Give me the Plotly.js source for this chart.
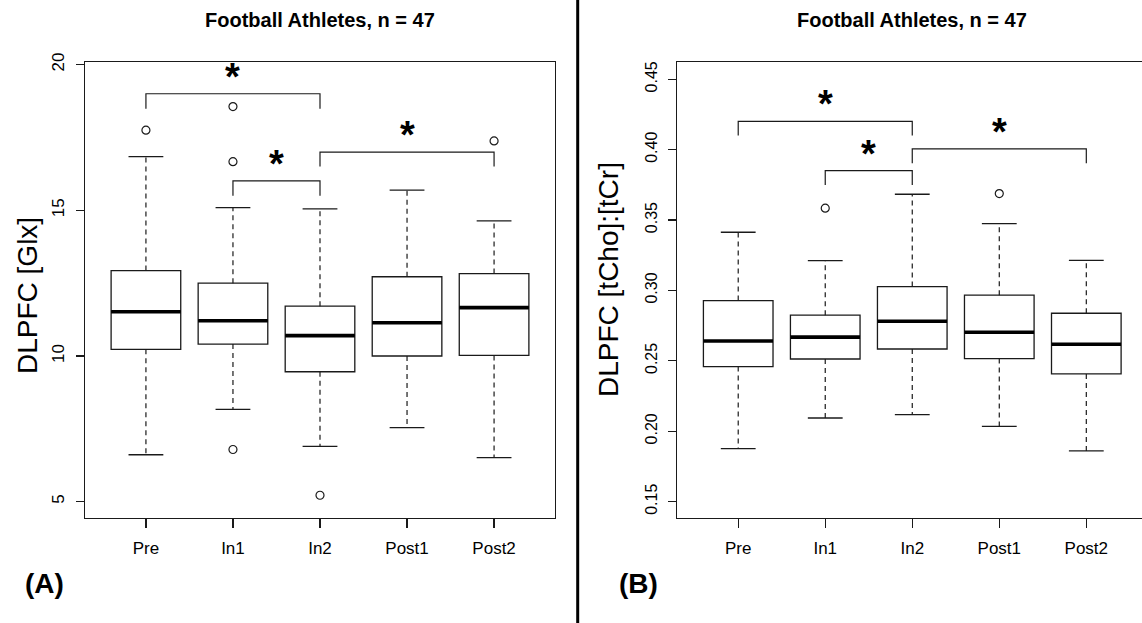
<!DOCTYPE html>
<html>
<head>
<meta charset="utf-8">
<script src="https://cdn.plot.ly/plotly-3.0.1.min.js"></script>
<style>html,body{margin:0;padding:0;background:#fff;}#chart{width:1142px;height:623px;}</style>
</head>
<body>
<div id="chart"></div>
<script>
// ---------- data ----------
const categories = ['Pre', 'In1', 'In2', 'Post1', 'Post2'];
const positions = [1, 2, 3, 4, 5];

// Panel A: DLPFC [Glx]
const glxLow  = [6.61, 8.17, 6.90, 7.54, 6.51];
const glxQ1   = [10.23, 10.41, 9.46, 10.00, 10.02];
const glxMed  = [11.52, 11.21, 10.70, 11.14, 11.66];
const glxQ3   = [12.93, 12.50, 11.71, 12.72, 12.83];
const glxHigh = [16.84, 15.09, 15.05, 15.69, 14.64];
const glxOutCat = ['Pre', 'In1', 'In1', 'In1', 'In2', 'Post2'];
const glxOutVal = [17.75, 18.56, 16.67, 6.79, 5.22, 17.38];
const glxBrFrom = ['Pre', 'In1', 'In2'];
const glxBrTo   = ['In2', 'In2', 'Post2'];
const glxBrTop  = [19.0, 16.01, 17.0];
const glxBrLeg  = [18.49, 15.5, 16.5];

// Panel B: DLPFC [tCho]:[tCr]
const choLow  = [0.1876, 0.2094, 0.2118, 0.2035, 0.1860];
const choQ1   = [0.2459, 0.2513, 0.2584, 0.2516, 0.2407];
const choMed  = [0.2641, 0.2668, 0.2781, 0.2703, 0.2618];
const choQ3   = [0.2928, 0.2824, 0.3027, 0.2966, 0.2838];
const choHigh = [0.3413, 0.3212, 0.3683, 0.3474, 0.3214];
const choOutCat = ['In1', 'Post1'];
const choOutVal = [0.3584, 0.3688];
const choBrFrom = ['Pre', 'In1', 'In2'];
const choBrTo   = ['In2', 'In2', 'Post2'];
const choBrTop  = [0.4201, 0.3851, 0.4005];
const choBrLeg  = [0.41, 0.3749, 0.3903];

const titleText = 'Football Athletes, n = 47';
const glxTickVals = [5, 10, 15, 20];
const choTickVals = [0.15, 0.20, 0.25, 0.30, 0.35, 0.40, 0.45];

// ---------- helpers ----------
const FONT = 'Liberation Sans, Arial, Helvetica, sans-serif';
const LC = '#1a1a1a';
const pos = c => positions[categories.indexOf(c)];
const BOXW = 0.8, CAPHALF = 0.2;

function panelTraces(low, q1, med, q3, high, outCat, outVal, xa, ya) {
  const tr = [];
  tr.push({type: 'box', x: positions, q1: q1, median: med, q3: q3,
    lowerfence: q1, upperfence: q3, width: BOXW, whiskerwidth: 0,
    fillcolor: 'rgba(0,0,0,0)', line: {color: LC, width: 1.3},
    boxpoints: false, xaxis: xa, yaxis: ya, hoverinfo: 'skip', showlegend: false});
  const wx = [], wy = [];
  positions.forEach((p, i) => { wx.push(p, p, null, p, p, null); wy.push(q3[i], high[i], null, q1[i], low[i], null); });
  tr.push({type: 'scatter', mode: 'lines', x: wx, y: wy, xaxis: xa, yaxis: ya,
    line: {color: LC, width: 1.2, dash: '5px,4px'}, hoverinfo: 'skip', showlegend: false});
  const cx = [], cy = [];
  positions.forEach((p, i) => { cx.push(p - CAPHALF, p + CAPHALF, null, p - CAPHALF, p + CAPHALF, null); cy.push(high[i], high[i], null, low[i], low[i], null); });
  tr.push({type: 'scatter', mode: 'lines', x: cx, y: cy, xaxis: xa, yaxis: ya,
    line: {color: LC, width: 1.3}, hoverinfo: 'skip', showlegend: false});
  const mx = [], my = [];
  positions.forEach((p, i) => { mx.push(p - BOXW / 2, p + BOXW / 2, null); my.push(med[i], med[i], null); });
  tr.push({type: 'scatter', mode: 'lines', x: mx, y: my, xaxis: xa, yaxis: ya,
    line: {color: '#000', width: 3.6}, hoverinfo: 'skip', showlegend: false});
  tr.push({type: 'scatter', mode: 'markers', x: outCat.map(pos), y: outVal, xaxis: xa, yaxis: ya,
    marker: {symbol: 'circle-open', size: 8, color: LC, line: {width: 1.2, color: LC}},
    hoverinfo: 'skip', showlegend: false});
  return tr;
}

function brackets(from, to, top, leg, xr, yr) {
  const shapes = [], ann = [];
  from.forEach((f, i) => {
    const a = pos(f), b = pos(to[i]);
    shapes.push({type: 'path', xref: xr, yref: yr,
      path: 'M' + a + ',' + leg[i] + ' L' + a + ',' + top[i] + ' L' + b + ',' + top[i] + ' L' + b + ',' + leg[i],
      line: {color: LC, width: 1.2}});
    ann.push({xref: xr, yref: yr, x: (a + b) / 2, y: top[i], text: '<b>*</b>', showarrow: false,
      yanchor: 'middle', yshift: 17, font: {family: FONT, size: 38, color: '#000'}});
  });
  return {shapes, ann};
}

const traces = [].concat(
  panelTraces(glxLow, glxQ1, glxMed, glxQ3, glxHigh, glxOutCat, glxOutVal, 'x', 'y'),
  panelTraces(choLow, choQ1, choMed, choQ3, choHigh, choOutCat, choOutVal, 'x2', 'y2')
);

const bA = brackets(glxBrFrom, glxBrTo, glxBrTop, glxBrLeg, 'x', 'y');
const bB = brackets(choBrFrom, choBrTo, choBrTop, choBrLeg, 'x2', 'y2');

const W = 1142, H = 623;
const xAxisCommon = {tickvals: positions, ticktext: categories, ticks: 'outside', ticklen: 9,
  tickcolor: LC, tickwidth: 1.2, showline: true, linecolor: LC, linewidth: 1.2, ticklabelstandoff: 6,
  showgrid: false, zeroline: false, tickfont: {family: FONT, size: 17, color: '#000'}, fixedrange: true};
const yAxisCommon = {ticks: 'outside', ticklen: 8, tickcolor: LC, tickwidth: 1.2, showline: true,
  linecolor: LC, linewidth: 1.2, showgrid: false, zeroline: false, tickangle: -90, ticklabelstandoff: 5,
  fixedrange: true};

const layout = {
  width: W, height: H, margin: {l: 0, r: 0, t: 0, b: 0},
  paper_bgcolor: '#fff', plot_bgcolor: '#fff', showlegend: false,
  xaxis: Object.assign({}, xAxisCommon, {domain: [85 / W, 555 / W], range: [0.3, 5.7], anchor: 'y', mirror: true}),
  yaxis: Object.assign({}, yAxisCommon, {domain: [105.3 / H, 1 - 62.3 / H], range: [4.45, 20.08],
    tickvals: glxTickVals, anchor: 'x', mirror: true, tickfont: {family: FONT, size: 17, color: '#000'}}),
  xaxis2: Object.assign({}, xAxisCommon, {domain: [677.3 / W, 1], range: [0.3, 5.64], anchor: 'y2', mirror: true}),
  yaxis2: Object.assign({}, yAxisCommon, {domain: [105.3 / H, 1 - 62.3 / H], range: [0.1386, 0.462],
    tickvals: choTickVals, tickformat: '.2f', anchor: 'x2', mirror: false,
    tickfont: {family: FONT, size: 16, color: '#000'}}),
  shapes: [].concat(bA.shapes, bB.shapes, [
    {type: 'line', xref: 'paper', yref: 'paper', x0: 577.7 / W, x1: 577.7 / W, y0: 0, y1: 1,
      line: {color: '#000', width: 3}}
  ]),
  annotations: [].concat(bA.ann, bB.ann, [
    {xref: 'x', yref: 'paper', x: 3, y: 1 - 20 / H, text: '<b>' + titleText + '</b>', showarrow: false,
      yanchor: 'middle', font: {family: FONT, size: 20, color: '#000'}},
    {xref: 'x2', yref: 'paper', x: 3, y: 1 - 20 / H, text: '<b>' + titleText + '</b>', showarrow: false,
      yanchor: 'middle', font: {family: FONT, size: 20, color: '#000'}},
    {xref: 'paper', yref: 'paper', x: 27 / W, y: 1 - 296 / H, text: 'DLPFC [Glx]', textangle: -90,
      showarrow: false, xanchor: 'center', yanchor: 'middle', font: {family: FONT, size: 28, color: '#000'}},
    {xref: 'paper', yref: 'paper', x: 608 / W, y: 1 - 280 / H, text: 'DLPFC [tCho]:[tCr]', textangle: -90,
      showarrow: false, xanchor: 'center', yanchor: 'middle', font: {family: FONT, size: 28, color: '#000'}},
    {xref: 'paper', yref: 'paper', x: 45 / W, y: 1 - 583 / H, text: '<b>(A)</b>', showarrow: false,
      xanchor: 'center', yanchor: 'middle', font: {family: FONT, size: 28, color: '#000'}},
    {xref: 'paper', yref: 'paper', x: 638 / W, y: 1 - 583 / H, text: '<b>(B)</b>', showarrow: false,
      xanchor: 'center', yanchor: 'middle', font: {family: FONT, size: 28, color: '#000'}}
  ])
};

Plotly.newPlot('chart', traces, layout, {staticPlot: true, displayModeBar: false});
</script>
</body>
</html>
